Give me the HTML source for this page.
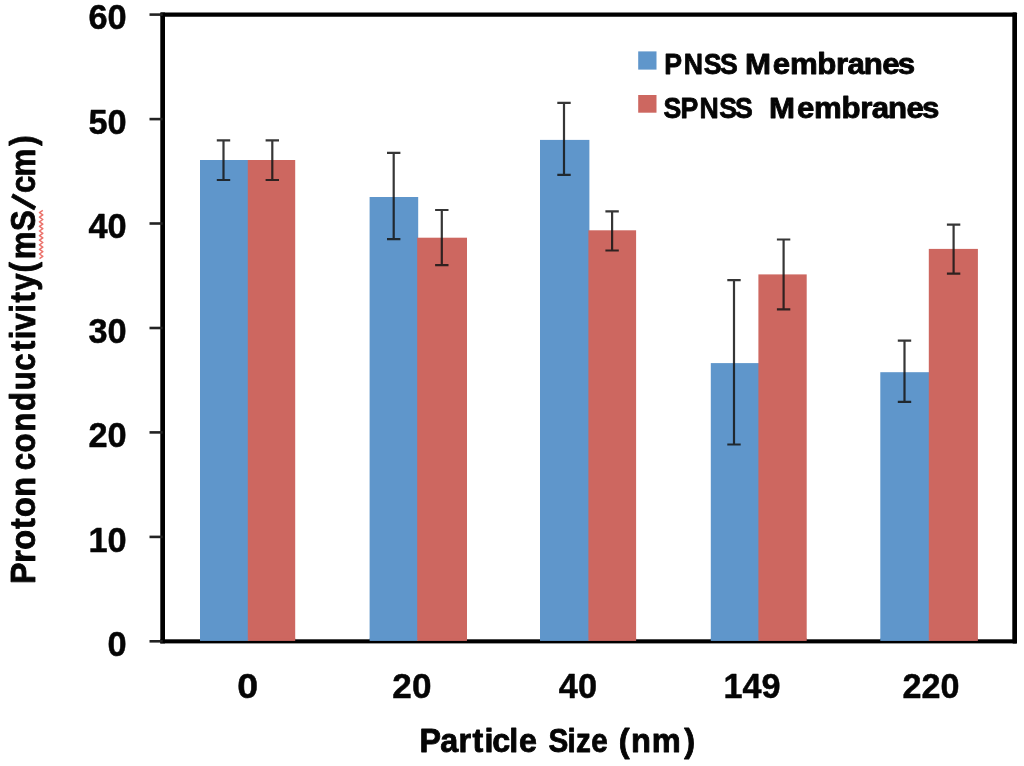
<!DOCTYPE html>
<html lang="en"><head><meta charset="utf-8"><title>Proton conductivity vs particle size</title>
<style>html,body{margin:0;padding:0;background:#fff}body{width:1024px;height:766px;overflow:hidden}svg{display:block;filter:blur(0.55px)}text{font-family:"Liberation Sans",sans-serif;font-weight:bold;fill:#050505;stroke:#050505;stroke-width:0.5;stroke-linejoin:round}.h{stroke-width:0.85}</style></head><body>
<svg width="1024" height="766" viewBox="0 0 1024 766">
<rect width="1024" height="766" fill="#fff"/>
<rect x="200.0" y="160" width="48.8" height="480.9" fill="#5F96CB"/>
<rect x="247.8" y="160" width="47.4" height="480.9" fill="#CD6760"/>
<rect x="369.6" y="197" width="48.6" height="443.9" fill="#5F96CB"/>
<rect x="417.2" y="237.7" width="49.8" height="403.2" fill="#CD6760"/>
<rect x="540.0" y="139.9" width="49.4" height="501.0" fill="#5F96CB"/>
<rect x="588.4" y="230.3" width="47.7" height="410.6" fill="#CD6760"/>
<rect x="710.8" y="363.1" width="48.6" height="277.8" fill="#5F96CB"/>
<rect x="758.4" y="274.4" width="48.3" height="366.5" fill="#CD6760"/>
<rect x="880.3" y="372.2" width="49.5" height="268.7" fill="#5F96CB"/>
<rect x="928.8" y="248.9" width="49.1" height="392.0" fill="#CD6760"/>
<g fill="#000">
<rect x="160.3" y="12.5" width="4.7" height="630.9"/>
<rect x="160.3" y="12.5" width="856.7" height="4.3" rx="1"/>
<rect x="1012.3" y="12.5" width="4.7" height="630.9" rx="1"/>
<rect x="160.3" y="639.3" width="856.7" height="4.1"/>
</g>
<rect x="200.0" y="638.3" width="48.8" height="2.60" fill="#5F96CB"/>
<rect x="247.8" y="638.3" width="47.4" height="2.60" fill="#CD6760"/>
<rect x="369.6" y="638.3" width="48.6" height="2.60" fill="#5F96CB"/>
<rect x="417.2" y="638.3" width="49.8" height="2.60" fill="#CD6760"/>
<rect x="540.0" y="638.3" width="49.4" height="2.60" fill="#5F96CB"/>
<rect x="588.4" y="638.3" width="47.7" height="2.60" fill="#CD6760"/>
<rect x="710.8" y="638.3" width="48.6" height="2.60" fill="#5F96CB"/>
<rect x="758.4" y="638.3" width="48.3" height="2.60" fill="#CD6760"/>
<rect x="880.3" y="638.3" width="49.5" height="2.60" fill="#5F96CB"/>
<rect x="928.8" y="638.3" width="49.1" height="2.60" fill="#CD6760"/>
<line x1="149.5" x2="162.7" y1="641.3" y2="641.3" stroke="#222" stroke-width="2.6"/>
<text transform="translate(107.50 656.1) scale(0.970 1)" font-size="35.4">0</text>
<line x1="149.5" x2="162.7" y1="536.9" y2="536.9" stroke="#222" stroke-width="2.6"/>
<text transform="translate(88.39 551.7) scale(0.970 1)" font-size="35.4">10</text>
<line x1="149.5" x2="162.7" y1="432.4" y2="432.4" stroke="#222" stroke-width="2.6"/>
<text transform="translate(88.39 447.2) scale(0.970 1)" font-size="35.4">20</text>
<line x1="149.5" x2="162.7" y1="328.0" y2="328.0" stroke="#222" stroke-width="2.6"/>
<text transform="translate(88.39 342.8) scale(0.970 1)" font-size="35.4">30</text>
<line x1="149.5" x2="162.7" y1="223.5" y2="223.5" stroke="#222" stroke-width="2.6"/>
<text transform="translate(88.39 238.3) scale(0.970 1)" font-size="35.4">40</text>
<line x1="149.5" x2="162.7" y1="119.1" y2="119.1" stroke="#222" stroke-width="2.6"/>
<text transform="translate(88.39 133.9) scale(0.970 1)" font-size="35.4">50</text>
<line x1="149.5" x2="162.7" y1="14.6" y2="14.6" stroke="#222" stroke-width="2.6"/>
<text transform="translate(88.39 29.4) scale(0.970 1)" font-size="35.4">60</text>
<g stroke="#161616" stroke-width="2.2" fill="none" opacity="0.86">
<path d="M216.8 140.3H230.2M223.5 140.3V180M216.8 180H230.2"/>
<path d="M265.6 140.3H279.0M272.3 140.3V180M265.6 180H279.0"/>
<path d="M387.0 152.8H400.4M393.7 152.8V239.1M387.0 239.1H400.4"/>
<path d="M435.1 210H448.5M441.8 210V265.1M435.1 265.1H448.5"/>
<path d="M557.3 102.9H570.7M564.0 102.9V174.9M557.3 174.9H570.7"/>
<path d="M605.4 211.4H618.8M612.1 211.4V250.5M605.4 250.5H618.8"/>
<path d="M727.3 280.2H740.7M734.0 280.2V444.5M727.3 444.5H740.7"/>
<path d="M776.9 239.5H790.3M783.6 239.5V309.4M776.9 309.4H790.3"/>
<path d="M897.8 340.7H911.2M904.5 340.7V401.8M897.8 401.8H911.2"/>
<path d="M946.9 224.7H960.3M953.6 224.7V273.6M946.9 273.6H960.3"/>
</g>
<text transform="translate(237.37 698.2) scale(1.060 1)" font-size="35.4">0</text>
<text transform="translate(392.36 698.2) scale(0.992 1)" font-size="35.4">20</text>
<text transform="translate(558.87 698.2) scale(0.968 1)" font-size="35.4">40</text>
<text transform="translate(723.53 698.2) scale(0.966 1)" font-size="35.4">149</text>
<text transform="translate(902.49 698.2) scale(0.963 1)" font-size="35.4">220</text>
<text class="h" transform="translate(0 752.3) scale(0.990 1)" x="423.69 444.61 463.09 477.34 489.36 497.30 514.45 524.14" y="0" font-size="32.6">Particle</text>
<text class="h" transform="translate(0 752.3) scale(0.910 1)" x="602.76 623.59 632.95 649.84" y="0" font-size="32.6">Size</text>
<text class="h" transform="translate(0 752.3) scale(1.000 1)" x="618.85 631.05 651.85 684.20" y="0" font-size="32.6">(nm)</text>
<g transform="translate(34.9 0) rotate(-90)">
<text class="h" transform="translate(0 0) scale(0.920 1)" x="-634.85 -611.78 -597.64 -574.88 -561.86 -540.06" y="0" font-size="35.2">Proton</text>
<text class="h" transform="translate(0 0) scale(0.885 1)" x="-531.27 -511.38 -487.93 -464.41 -440.88 -418.98 -396.68 -383.43 -373.39 -353.41 -341.95 -328.67 -307.82 -292.92 -261.11 -237.21 -218.13 -199.57 -164.71" y="0.00 0.00 0.00 0.00 0.00 0.00 0.00 0.00 0.00 0.00 0.00 0.00 0.00 0.00 0.00 -1.54 0.00 0.00 0.00" rotate="0 0 0 0 0 0 0 0 0 0 0 0 0 0 0 22 0 0 0" font-size="35.2">conductivity(mS/cm)</text>
</g>
<polyline points="39.5 258.6 42.8 256.3 39.5 254.0 42.8 251.7 39.5 249.4 42.8 247.1 39.5 244.8 42.8 242.5 39.5 240.2 42.8 237.9 39.5 235.6 42.8 233.3 39.5 231.0 42.8 228.7 39.5 226.4 42.8 224.1 39.5 221.8 42.8 219.5 39.5 217.2 42.8 214.9 39.5 212.6 42.8 210.3" fill="none" stroke="#e9635b" stroke-width="1.5" stroke-linejoin="round" opacity="0.9"/>
<rect x="638.2" y="51.4" width="18.3" height="18.2" fill="#5F96CB"/>
<rect x="638.2" y="95" width="18.3" height="17.7" fill="#CD6760"/>
<text class="h" transform="translate(0 74.1) scale(0.913 1)" x="727.68 749.03 770.89 788.48" y="0" font-size="29.2">PNSS</text>
<text class="h" transform="translate(0 74.1) scale(1.070 1)" x="696.24 722.21 738.31 763.87 781.31 792.04 807.29 824.64 839.01" y="0" font-size="29.2">Membranes</text>
<text class="h" transform="translate(0 118) scale(0.913 1)" x="726.83 745.23 766.23 787.75 805.06" y="0" font-size="29.2">SPNSS</text>
<text class="h" transform="translate(0 118) scale(1.070 1)" x="718.77 744.75 760.87 786.44 803.88 814.62 829.88 847.25 861.62" y="0" font-size="29.2">Membranes</text>
</svg></body></html>
